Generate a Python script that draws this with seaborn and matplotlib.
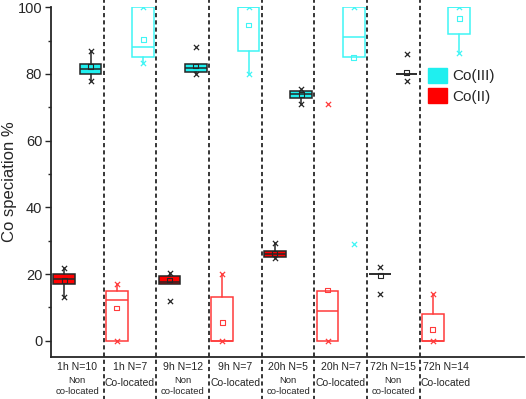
import matplotlib
matplotlib.use("Agg")
import numpy as np
import pandas as pd
import seaborn as sns
import matplotlib.pyplot as plt
from matplotlib.patches import Patch

# group labels
groups = ["1h N=10", "1h N=7", "9h N=12", "9h N=7",
          "20h N=5", "20h N=7", "72h N=15", "72h N=14"]
subs = ["Non\nco-located", "Co-located", "Non\nco-located", "Co-located",
        "Non\nco-located", "Co-located", "Non\nco-located", "Co-located"]
filled = [True, False, True, False, True, False, True, False]

# Co(III) box statistics
c3_q1 = [80.0, 85.0, 80.5, 86.9, 72.9, 85.0, 80.0, 92.0]
c3_med = [81.4, 88.0, 81.7, 100.0, 74.0, 91.0, 80.0, 100.0]
c3_q3 = [82.9, 100.0, 82.9, 100.0, 75.0, 100.0, 80.0, 100.0]
c3_wlo = [78.0, 83.2, 80.0, 80.0, 71.0, 85.0, 80.0, 86.2]
c3_whi = [86.9, 100.0, 82.9, 100.0, 75.0, 100.0, 80.0, 100.0]
c3_mean = [82.2, 90.4, 82.4, 94.7, 73.8, 85.0, 80.5, 96.7]
c3_min = [78.0, 83.2, 80.0, 80.0, 71.0, 29.0, 78.0, 86.2]
c3_max = [86.9, 100.0, 88.0, 100.0, 75.4, 100.0, 86.1, 100.0]

# Co(II) box statistics
c2_q1 = [16.9, 0.0, 16.9, 0.0, 25.0, 0.0, 20.0, 0.0]
c2_med = [18.5, 12.1, 17.7, 0.0, 26.0, 9.0, 20.0, 0.0]
c2_q3 = [20.0, 15.0, 19.4, 13.0, 27.0, 15.0, 20.0, 8.0]
c2_wlo = [13.0, 0.0, 16.9, 0.0, 24.7, 0.0, 20.0, 0.0]
c2_whi = [21.7, 16.9, 20.2, 20.0, 29.2, 15.0, 20.0, 14.0]
c2_mean = [18.0, 9.8, 18.2, 5.4, 26.2, 15.2, 19.5, 3.4]
c2_min = [13.0, 0.0, 12.0, 0.0, 24.7, 0.0, 14.0, 0.0]
c2_max = [21.7, 16.9, 20.2, 20.0, 29.2, 71.0, 22.0, 14.0]

CYAN = "#1FEFEF"
CYAN_LINE = "#3FF5F5"
RED = "#FF0000"
RED_LINE = "#FF3B3B"
EDGE = "#262626"

sns.set_style("ticks")
plt.rcParams["font.family"] = ["Liberation Sans", "DejaVu Sans"]
plt.rcParams["lines.scale_dashes"] = False

fig = plt.figure(figsize=(5.26, 3.99), dpi=100)
ax = fig.add_axes([51 / 526, 1 - 356.7 / 399, 473 / 526, 349.4 / 399])

series = [
    (-0.25, RED, RED_LINE, c2_q1, c2_med, c2_q3, c2_wlo, c2_whi, c2_mean, c2_min, c2_max),
    (0.25, CYAN, CYAN_LINE, c3_q1, c3_med, c3_q3, c3_wlo, c3_whi, c3_mean, c3_min, c3_max),
]

rows = []
for off, fc, lc, q1, med, q3, wlo, whi, mean, vmin, vmax in series:
    for i in range(len(groups)):
        pos = i + 1 + off
        stat = dict(q1=q1[i], med=med[i], q3=q3[i], whislo=wlo[i], whishi=whi[i],
                    mean=mean[i], fliers=[])
        if filled[i]:
            edge, face = EDGE, fc
            if i == 6:
                face = "none"
        else:
            edge, face = lc, "none"
        lw = 1.1
        ax.bxp([stat], positions=[pos], widths=0.41, patch_artist=True,
               showcaps=False, showfliers=False, showmeans=False,
               boxprops=dict(facecolor=face, edgecolor=edge, linewidth=lw),
               whiskerprops=dict(color=edge, linewidth=lw),
               medianprops=dict(color=edge, linewidth=lw))
        rows.append(dict(x=pos, y=mean[i], kind="mean", col=edge))
        rows.append(dict(x=pos, y=vmin[i], kind="ext", col=edge))
        rows.append(dict(x=pos, y=vmax[i], kind="ext", col=edge))

marks = pd.DataFrame(rows)
for col, sub in marks.groupby("col"):
    m = sub[sub["kind"] == "mean"]
    sns.scatterplot(x=m["x"], y=m["y"], marker="s", s=12, facecolor="none",
                    edgecolor=col, linewidth=0.8, ax=ax, zorder=5)
    e = sub[sub["kind"] == "ext"]
    sns.scatterplot(x=e["x"], y=e["y"], marker="x", s=14, color=col,
                    linewidth=0.9, ax=ax, zorder=5)

# dashed separators, running over the tick label area
for k in range(1, len(groups)):
    ax.plot([k + 0.5, k + 0.5], [-0.125, 1.03], transform=ax.get_xaxis_transform(),
            color="black", lw=1.1, dashes=(3.0, 2.2), clip_on=False, zorder=1)

ax.set_xlim(0.5, 9.48)
ax.set_ylim(-4.8, 100)
ax.set_xticks([])
ax.set_yticks(np.arange(0, 101, 20))
ax.set_yticks(np.arange(10, 100, 20), minor=True)
ax.tick_params(axis="y", which="major", length=4.3, width=1.0, labelsize=10.5, pad=2)
ax.tick_params(axis="y", which="minor", length=2.4, width=1.0)
ax.set_ylabel("Co speciation %", fontsize=12)
ax.yaxis.set_label_coords(-0.072, 0.5)
sns.despine(ax=ax)
for s in ["left", "bottom"]:
    ax.spines[s].set_linewidth(1.3)
ax.set_xlabel("")

tr = ax.get_xaxis_transform()
for i in range(len(groups)):
    ax.text(i + 1, -0.0295, groups[i], transform=tr, ha="center", va="center",
            fontsize=7.6)
    if filled[i]:
        ax.text(i + 1, -0.0836, subs[i], transform=tr, ha="center", va="center",
                fontsize=6.8, linespacing=1.25)
    else:
        ax.text(i + 1, -0.0744, subs[i], transform=tr, ha="center", va="center",
                fontsize=7.5)

handles = [Patch(facecolor=CYAN, edgecolor=CYAN, label="Co(III)"),
           Patch(facecolor=RED, edgecolor=RED, label="Co(II)")]
ax.legend(handles=handles, loc="upper left", bbox_to_anchor=(427.7 / 526, 1 - 67.7 / 399),
          bbox_transform=fig.transFigure, frameon=False, fontsize=11,
          handlelength=1.25, handleheight=1.15, handletextpad=0.35,
          labelspacing=0.3, borderpad=0, borderaxespad=0)

fig.savefig("out.png", dpi=100)
